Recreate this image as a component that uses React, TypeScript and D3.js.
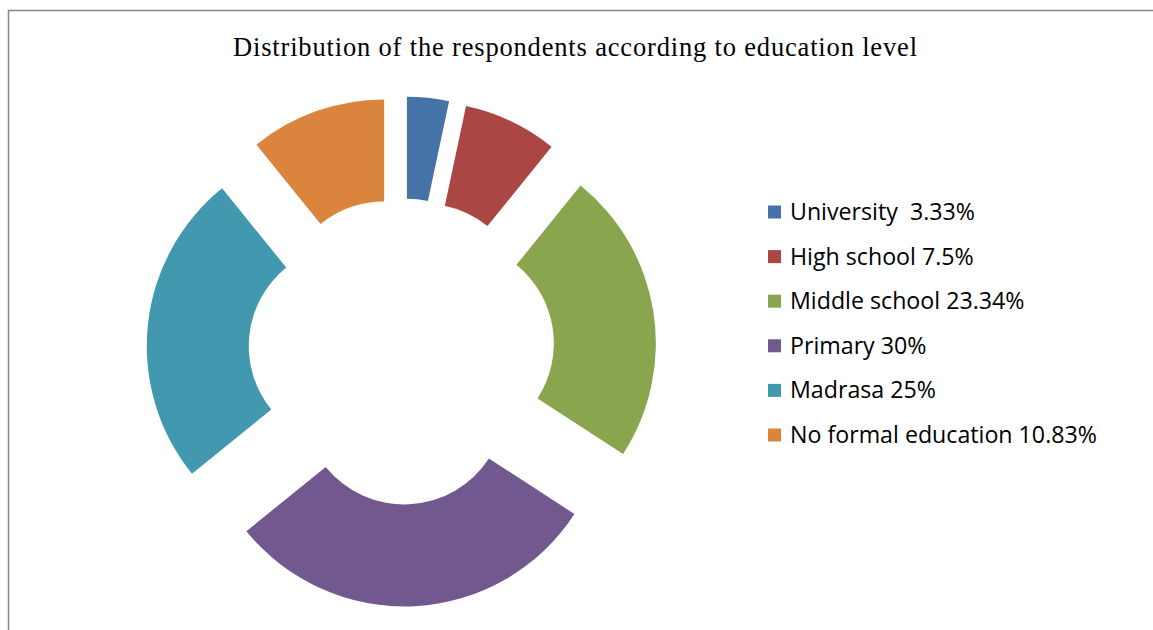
import React from "react";
import * as d3 from "d3";

const categories = ["University", "High school", "Middle school", "Primary", "Madrasa", "No formal education"];
const values = [3.33, 7.5, 23.34, 30, 25, 10.83];
const legendLabels = ["University  3.33%", "High school 7.5%", "Middle school 23.34%", "Primary 30%", "Madrasa 25%", "No formal education 10.83%"];
const colors = ["#4572A7", "#AA4643", "#89A54E", "#71588F", "#4198AF", "#DB843D"];
const title = "Distribution of the respondents according to education level";

const W = 1153;
const H = 630;
const cx = 401.5;
const cy = 351.5;
const outerR = 203;
const innerR = 101;
const explode = 52;

export default function App() {
  const data = categories.map((c, i) => ({ name: c, value: values[i], color: colors[i] }));
  const pie = d3.pie<any>().sort(null).value((d: any) => d.value).startAngle(0).endAngle(2 * Math.PI);
  const arc = d3.arc<any>().innerRadius(innerR).outerRadius(outerR);
  const arcs = pie(data);
  const legendY = d3.scalePoint<number>().domain(d3.range(categories.length)).range([212, 435]);

  return (
    <svg width={W} height={H} style={{ position: "absolute", left: 0, top: 0, background: "#fff" }}>
      <rect x={0} y={0} width={W} height={H} fill="#fff" />
      <rect x={8.5} y={10.5} width={W + 20} height={H + 20} fill="none" stroke="#868686" strokeWidth={1.5} />
      <text x={233} y={56} textLength={684} lengthAdjust="spacing" fontFamily="'Liberation Serif', serif" fontSize={26.5} fill="#000">
        {title}
      </text>
      <g>
        {arcs.map((a, i) => {
          const mid = (a.startAngle + a.endAngle) / 2;
          const dx = Math.sin(mid) * explode;
          const dy = -Math.cos(mid) * explode;
          return (
            <path key={i} d={arc(a) as string} fill={a.data.color} transform={`translate(${cx + dx},${cy + dy})`} />
          );
        })}
      </g>
      <g>
        {legendLabels.map((l, i) => {
          const y = legendY(i) as number;
          return (
            <g key={i}>
              <rect x={768} y={y - 6.5} width={13} height={13} fill={colors[i]} />
              <text x={790} y={y + 8} fontFamily="'Open Sans', sans-serif" fontSize={23.2} fill="#000" style={{ whiteSpace: "pre" }}>
                {l}
              </text>
            </g>
          );
        })}
      </g>
    </svg>
  );
}
